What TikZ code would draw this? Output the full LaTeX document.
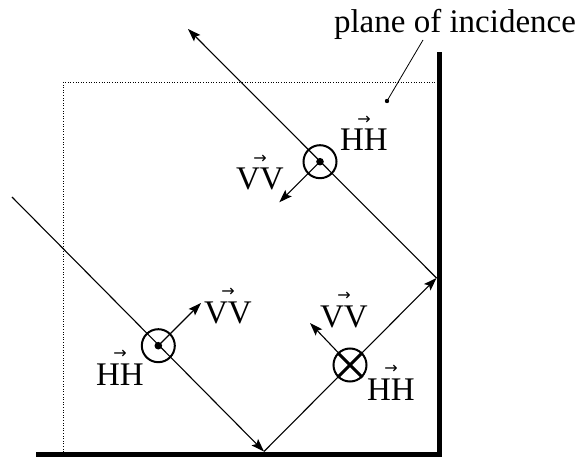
\documentclass[tikz,border=0pt]{standalone}
\usepackage{fontspec}
\setmainfont{Liberation Serif}
\newfontfamily\arrfont{DejaVu Sans}
\usetikzlibrary{arrows.meta}
\newcommand\arrlabel[1]{\ooalign{#1\cr\hidewidth\raisebox{26.5pt}{\arrfont\fontsize{16}{16}\selectfont →}\hidewidth\cr}}
\begin{document}
\begin{tikzpicture}[x=1pt,y=-1pt,
  ray/.style={line width=1.1pt,-{Stealth[length=13pt,width=9pt,inset=2.5pt]}},
  varrow/.style={line width=1.1pt,-{Stealth[length=13pt,width=9pt,inset=2.5pt]}},
  pol/.style={circle,draw,line width=2pt,minimum size=33pt,inner sep=0pt},
  lbl/.style={font=\fontsize{33}{36}\selectfont,inner sep=0pt,anchor=base},
  wall/.style={line width=5pt},
  plane/.style={line width=0.7pt,dash pattern=on 0.8pt off 1.8pt}]
\useasboundingbox (0,0) rectangle (581,457);
% plane of incidence (dotted)
\coordinate (P1) at (63,452);
\coordinate (P2) at (63,82.5);
\coordinate (P3) at (436.5,82.5);
\draw[plane] (P1) -- (P2) -- (P3);
% walls
\coordinate (W1) at (36,454);
\coordinate (W2) at (439.2,454);
\coordinate (W3) at (439.2,52);
\draw[wall] (W1) -- (W2) -- (W3);
% rays
\coordinate (A) at (12,197);
\coordinate (R1) at (264,451.5);
\coordinate (R2) at (436.5,278);
\coordinate (T) at (188,29);
\draw[ray] (A) -- (R1);
\draw[ray] (R1) -- (R2);
\draw[ray] (R2) -- (T);
% polarisation markers
\node[pol] (C1) at (158.3,345.7) {};
\node[pol] (C2) at (350,365) {};
\node[pol] (C3) at (320,161.7) {};
\fill (C1.center) circle (3.8);
\fill (C3.center) circle (3.8);
\draw[line width=3pt] (C2.north east) -- (C2.south west);
\draw[line width=3pt] (C2.north west) -- (C2.south east);
% V arrows
\coordinate (V1tip) at (201,303);
\coordinate (V2tip) at (310,323);
\coordinate (V3tip) at (279.3,202.3);
\draw[varrow] (C1.center) -- (V1tip);
\draw[varrow] (C2.center) -- (V2tip);
\draw[varrow] (C3.center) -- (V3tip);
% labels
\node[lbl] (V1) at (228,323) {\arrlabel{VV}};
\node[lbl] (H1) at (120,385) {\arrlabel{HH}};
\node[lbl] (V2) at (344,327) {\arrlabel{VV}};
\node[lbl] (H2) at (391,400) {\arrlabel{HH}};
\node[lbl] (V3) at (260,190) {\arrlabel{VV}};
\node[lbl] (H3) at (364,151) {\arrlabel{HH}};
% plane of incidence label
\node[lbl] (poi) at (455,33) {plane of incidence};
\coordinate (pstart) at (423,40);
\coordinate (pdot) at (387,101);
\draw[line width=0.8pt] (pstart) -- (pdot);
\fill (pdot) circle (2.2);
\end{tikzpicture}
\end{document}
